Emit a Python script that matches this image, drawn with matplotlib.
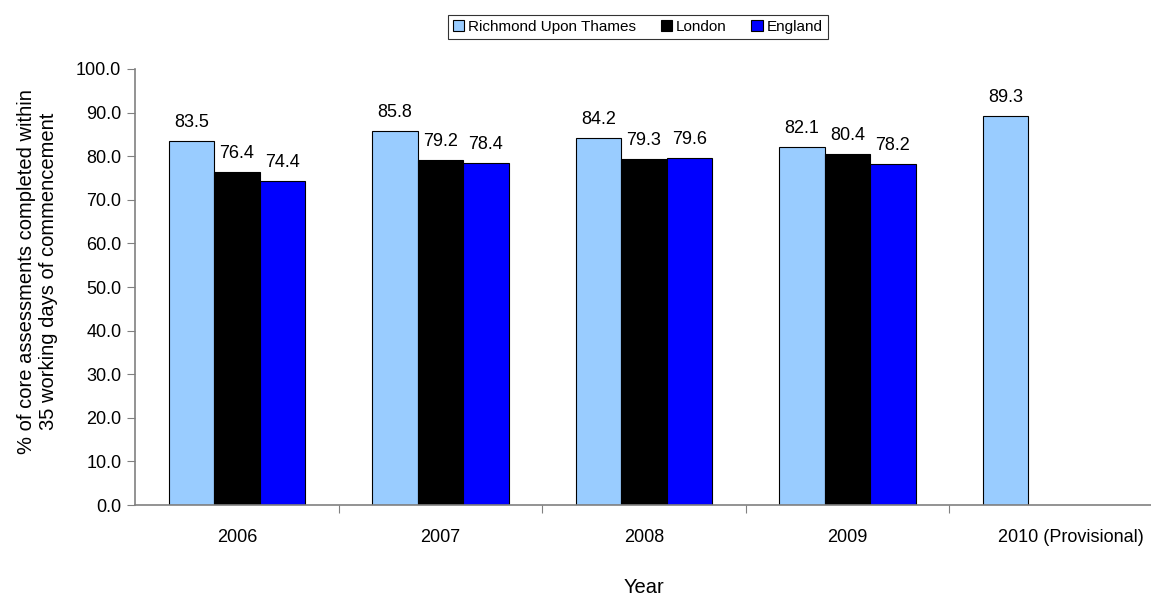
import numpy as np
import matplotlib.pyplot as plt
from matplotlib.transforms import ScaledTranslation

years = ["2006", "2007", "2008", "2009", "2010 (Provisional)"]
richmond = [83.5, 85.8, 84.2, 82.1, 89.3]
london = [76.4, 79.2, 79.3, 80.4, None]
england = [74.4, 78.4, 79.6, 78.2, None]

series = [("Richmond Upon Thames", richmond, "#99ccff"),
          ("London", london, "#000000"),
          ("England", england, "#0000ff")]

plt.rcParams['font.family'] = ['Liberation Sans', 'DejaVu Sans']

fig = plt.figure(figsize=(11.51, 6.02), dpi=100)
ax = fig.add_axes([0.1175, 0.1611, 0.884, 0.7243])

x = np.arange(len(years))
width = 0.223
for i, (name, vals, col) in enumerate(series):
    xs = [xi + (i - 1) * width for xi, v in zip(x, vals) if v is not None]
    vs = [v for v in vals if v is not None]
    bars = ax.bar(xs, vs, width, color=col, edgecolor="black", linewidth=0.8, label=name)
    for b, v in zip(bars, vs):
        ax.text(b.get_x() + b.get_width() / 2, v + 2.3, f"{v:.1f}",
                ha="center", va="bottom", fontsize=13)

ax.set_xlim(-0.5, len(years) - 0.5)
ax.set_ylim(0, 100)
ax.set_yticks(np.arange(0, 101, 10))
ax.set_yticklabels([f"{t:.1f}" for t in np.arange(0, 101, 10)], fontsize=13)

# ticks sit between the year groups, labels centred under each group
ax.set_xticks(np.arange(0.5, len(years) - 1, 1))
ax.set_xticklabels([])
ax.set_xticks(x, minor=True)
ax.set_xticklabels(years, minor=True, fontsize=13)
ax.tick_params(axis="x", which="minor", length=0, pad=17)
ax.tick_params(axis="x", which="major", length=6, color="#808080", direction="out")
ax.tick_params(axis="y", length=6, color="#808080", direction="out", pad=4)

# the last label is nudged right so it stays inside the figure
last = ax.get_xticklabels(minor=True)[-1]
last.set_transform(last.get_transform() + ScaledTranslation(0.2, 0, fig.dpi_scale_trans))

for s in ["top", "right"]:
    ax.spines[s].set_visible(False)
for s in ["left", "bottom"]:
    ax.spines[s].set_color("#808080")
    ax.spines[s].set_linewidth(1.2)

ax.set_xlabel("Year", fontsize=14.5, labelpad=23)
ax.set_ylabel("% of core assessments completed within\n35 working days of commencement",
              fontsize=14.5)
ax.yaxis.set_label_coords(-0.0757, 0.535)

leg = fig.legend(loc="center", bbox_to_anchor=(0.554, 0.955), ncol=3, fontsize=11,
                 frameon=True, fancybox=False, edgecolor="black",
                 handlelength=0.75, handleheight=0.75, handletextpad=0.25,
                 columnspacing=1.6, borderpad=0.35)
leg.get_frame().set_linewidth(0.8)

fig.savefig("out.png", dpi=100)
